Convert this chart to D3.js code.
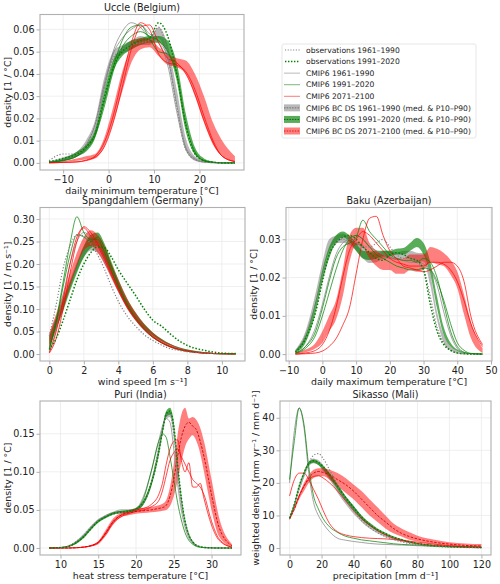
<!DOCTYPE html>
<html>
<head>
<meta charset="utf-8">
<script src="https://cdn.jsdelivr.net/npm/d3@7"></script>
<style>
  body { margin: 0; background: #fff; }
  svg { font-family: "DejaVu Sans", sans-serif; }
</style>
</head>
<body>
<svg id="chart" width="500" height="584"></svg>
<script>
// ---- Uccle (Belgium), daily minimum temperature
const ucX = [-13.1, -10, -7, -5, -3, -1, 1, 3, 5, 7, 9, 11, 13, 15, 17, 19, 21, 23, 25, 27.8];
const ucBandA = [[0, 0.0005], [0.0015, 0.0025], [0.003, 0.005], [0.007, 0.010], [0.015, 0.019], [0.032, 0.038], [0.045, 0.050], [0.049, 0.053], [0.051, 0.055], [0.053, 0.057], [0.053, 0.056], [0.056, 0.061], [0.046, 0.053], [0.026, 0.033], [0.006, 0.011], [0.001, 0.003], [0.0003, 0.001], [0.0001, 0.0004], [0, 0.0002], [0, 0.0001]];
const ucBandB = [[0, 0.0004], [0.001, 0.002], [0.003, 0.005], [0.005, 0.008], [0.011, 0.015], [0.026, 0.032], [0.041, 0.046], [0.048, 0.052], [0.051, 0.055], [0.053, 0.056], [0.054, 0.057], [0.054, 0.057], [0.050, 0.055], [0.039, 0.045], [0.017, 0.022], [0.004, 0.007], [0.001, 0.002], [0.0002, 0.0006], [0, 0.0002], [0, 0.0001]];
const ucBandC = [[0, 0.0002], [0.0003, 0.0008], [0.001, 0.002], [0.0015, 0.003], [0.002, 0.004], [0.007, 0.011], [0.018, 0.025], [0.032, 0.041], [0.045, 0.052], [0.051, 0.056], [0.052, 0.056], [0.048, 0.052], [0.044, 0.049], [0.043, 0.047], [0.040, 0.046], [0.030, 0.040], [0.018, 0.030], [0.008, 0.018], [0.003, 0.010], [0.0005, 0.003]];
const ucObsA = [0.001, 0.004, 0.004, 0.008, 0.017, 0.034, 0.047, 0.051, 0.053, 0.054, 0.055, 0.061, 0.049, 0.025, 0.006, 0.0015, 0.0004, 0.0001, 0, 0];
const ucObsB = [0.0005, 0.002, 0.004, 0.007, 0.013, 0.029, 0.043, 0.050, 0.053, 0.055, 0.056, 0.063, 0.057, 0.040, 0.017, 0.004, 0.001, 0.0003, 0, 0];
const ucGcmA = [
  [0.0003, 0.001, 0.003, 0.006, 0.014, 0.033, 0.050, 0.059, 0.063, 0.061, 0.056, 0.054, 0.044, 0.023, 0.006, 0.0015, 0.0003, 0.0001, 0, 0],
  [0.0003, 0.0015, 0.004, 0.008, 0.017, 0.035, 0.049, 0.056, 0.060, 0.062, 0.058, 0.055, 0.047, 0.026, 0.007, 0.002, 0.0005, 0.0001, 0, 0]];
const ucGcmB = [
  [0.0002, 0.0012, 0.003, 0.007, 0.013, 0.027, 0.043, 0.055, 0.061, 0.062, 0.056, 0.050, 0.049, 0.038, 0.015, 0.004, 0.001, 0.0002, 0, 0],
  [0.0002, 0.001, 0.003, 0.006, 0.012, 0.025, 0.041, 0.052, 0.057, 0.059, 0.057, 0.055, 0.050, 0.040, 0.017, 0.005, 0.001, 0.0003, 0, 0]];
const ucGcmC = [
  [0, 0.0002, 0.0005, 0.0012, 0.003, 0.009, 0.021, 0.038, 0.054, 0.063, 0.060, 0.049, 0.045, 0.044, 0.041, 0.033, 0.021, 0.010, 0.003, 0.0006],
  [0, 0.0002, 0.0004, 0.001, 0.0025, 0.007, 0.018, 0.034, 0.051, 0.061, 0.062, 0.054, 0.047, 0.045, 0.040, 0.031, 0.019, 0.009, 0.003, 0.0006]];

// ---- Spangdahlem (Germany), wind speed
const spX = [0, 0.4, 0.8, 1.2, 1.6, 2.0, 2.4, 2.8, 3.2, 3.6, 4.0, 4.5, 5.0, 5.5, 6.0, 6.5, 7.0, 7.5, 8.0, 9.0, 10.0, 10.8];
const spBandA = [[0.02, 0.045], [0.06, 0.085], [0.10, 0.125], [0.145, 0.165], [0.185, 0.205], [0.215, 0.24], [0.23, 0.26], [0.225, 0.255], [0.20, 0.23], [0.17, 0.197], [0.138, 0.16], [0.104, 0.12], [0.077, 0.09], [0.056, 0.066], [0.04, 0.047], [0.028, 0.033], [0.019, 0.022], [0.012, 0.015], [0.008, 0.01], [0.003, 0.004], [0.001, 0.0015], [0.0004, 0.0007]];
const spBandB = [[0.015, 0.04], [0.055, 0.08], [0.095, 0.12], [0.14, 0.16], [0.18, 0.20], [0.215, 0.24], [0.235, 0.265], [0.24, 0.27], [0.215, 0.245], [0.18, 0.205], [0.145, 0.166], [0.107, 0.124], [0.079, 0.092], [0.057, 0.067], [0.041, 0.048], [0.029, 0.034], [0.02, 0.023], [0.013, 0.015], [0.008, 0.01], [0.003, 0.004], [0.001, 0.0015], [0.0004, 0.0007]];
const spBandC = [[0.01, 0.045], [0.055, 0.09], [0.10, 0.135], [0.15, 0.18], [0.195, 0.225], [0.23, 0.26], [0.24, 0.275], [0.225, 0.265], [0.2, 0.24], [0.168, 0.2], [0.137, 0.165], [0.103, 0.124], [0.076, 0.092], [0.055, 0.066], [0.039, 0.047], [0.027, 0.033], [0.018, 0.022], [0.012, 0.014], [0.007, 0.009], [0.003, 0.004], [0.001, 0.0015], [0.0004, 0.0007]];
const spObsA = [0.04, 0.11, 0.19, 0.24, 0.265, 0.262, 0.245, 0.22, 0.188, 0.15, 0.117, 0.085, 0.062, 0.043, 0.03, 0.02, 0.012, 0.008, 0.005, 0.002, 0.0005, 0.0001];
const spObsB = [0.01, 0.035, 0.075, 0.12, 0.165, 0.2, 0.225, 0.238, 0.236, 0.215, 0.187, 0.158, 0.13, 0.1, 0.075, 0.062, 0.045, 0.03, 0.019, 0.008, 0.002, 0.001];
const spGcmA = [
  [0.005, 0.055, 0.13, 0.2, 0.25, 0.27, 0.26, 0.24, 0.21, 0.175, 0.14, 0.103, 0.075, 0.053, 0.037, 0.025, 0.016, 0.01, 0.006, 0.002, 0.0006, 0.0002]];
const spGcmB = [
  [0.01, 0.075, 0.16, 0.245, 0.305, 0.27, 0.255, 0.255, 0.225, 0.185, 0.148, 0.108, 0.078, 0.055, 0.037, 0.025, 0.016, 0.01, 0.006, 0.002, 0.0006, 0.0002],
  [0.012, 0.07, 0.15, 0.22, 0.265, 0.26, 0.25, 0.26, 0.235, 0.195, 0.155, 0.112, 0.08, 0.057, 0.039, 0.026, 0.017, 0.011, 0.007, 0.002, 0.0006, 0.0002]];
const spGcmC = [
  [0.002, 0.035, 0.10, 0.18, 0.25, 0.283, 0.27, 0.245, 0.215, 0.18, 0.146, 0.107, 0.078, 0.055, 0.038, 0.026, 0.017, 0.011, 0.007, 0.002, 0.0006, 0.0002],
  [0.003, 0.05, 0.12, 0.2, 0.26, 0.28, 0.262, 0.24, 0.21, 0.175, 0.142, 0.104, 0.076, 0.054, 0.037, 0.025, 0.016, 0.01, 0.006, 0.002, 0.0006, 0.0002]];

// ---- Baku (Azerbaijan), daily maximum temperature
const bkX = [-8, -5, -2, 0, 2, 4, 6, 8, 10, 12, 14, 16, 18, 20, 22, 24, 26, 28, 30, 32, 34, 36, 38, 40, 42, 44, 47.5];
const bkBandA = [[0.0005, 0.0012], [0.004, 0.006], [0.013, 0.016], [0.021, 0.024], [0.027, 0.03], [0.029, 0.031], [0.029, 0.0315], [0.0285, 0.0305], [0.027, 0.0295], [0.025, 0.0285], [0.0238, 0.0265], [0.024, 0.0262], [0.025, 0.027], [0.025, 0.027], [0.0245, 0.0265], [0.025, 0.027], [0.025, 0.027], [0.024, 0.0265], [0.0242, 0.0264], [0.018, 0.021], [0.009, 0.011], [0.003, 0.005], [0.001, 0.002], [0.0004, 0.0008], [0.0002, 0.0004], [0.0001, 0.0002], [0, 0.0001]];
const bkBandB = [[0.0004, 0.001], [0.003, 0.005], [0.011, 0.014], [0.019, 0.022], [0.025, 0.028], [0.029, 0.031], [0.0305, 0.032], [0.0294, 0.031], [0.027, 0.029], [0.025, 0.027], [0.0246, 0.0268], [0.025, 0.027], [0.0255, 0.027], [0.0255, 0.027], [0.026, 0.0275], [0.026, 0.0277], [0.027, 0.029], [0.028, 0.0303], [0.026, 0.029], [0.021, 0.024], [0.012, 0.015], [0.005, 0.007], [0.002, 0.003], [0.0008, 0.0012], [0.0003, 0.0005], [0.0001, 0.0002], [0, 0.0001]];
const bkBandC = [[0, 0.0003], [0.0005, 0.0012], [0.0015, 0.003], [0.003, 0.006], [0.006, 0.01], [0.009, 0.014], [0.015, 0.022], [0.024, 0.031], [0.0285, 0.033], [0.028, 0.033], [0.025, 0.029], [0.023, 0.027], [0.022, 0.026], [0.022, 0.0255], [0.021, 0.025], [0.021, 0.025], [0.022, 0.026], [0.0215, 0.026], [0.022, 0.026], [0.024, 0.028], [0.0235, 0.0275], [0.023, 0.0264], [0.0207, 0.0246], [0.0173, 0.0216], [0.0104, 0.0156], [0.0043, 0.0086], [0.0003, 0.0015]];
const bkObsA = [0.0005, 0.005, 0.013, 0.02, 0.026, 0.029, 0.03, 0.03, 0.029, 0.028, 0.028, 0.029, 0.03, 0.028, 0.026, 0.025, 0.025, 0.024, 0.022, 0.015, 0.007, 0.003, 0.001, 0.0003, 0.0001, 0, 0];
const bkObsB = [0.0005, 0.004, 0.011, 0.019, 0.026, 0.029, 0.0305, 0.031, 0.03, 0.028, 0.0265, 0.025, 0.0245, 0.026, 0.0265, 0.026, 0.025, 0.0245, 0.022, 0.013, 0.006, 0.0025, 0.001, 0.0003, 0.0001, 0, 0];
const bkGcmA = [
  [0.0003, 0.002, 0.007, 0.013, 0.02, 0.026, 0.029, 0.03, 0.031, 0.03, 0.028, 0.027, 0.026, 0.025, 0.025, 0.0245, 0.024, 0.024, 0.0235, 0.022, 0.018, 0.011, 0.005, 0.0015, 0.0004, 0.0001, 0]];
const bkGcmB = [
  [0.0003, 0.002, 0.006, 0.012, 0.019, 0.025, 0.028, 0.029, 0.0305, 0.035, 0.032, 0.03, 0.028, 0.026, 0.025, 0.0245, 0.0245, 0.024, 0.025, 0.024, 0.02, 0.013, 0.006, 0.002, 0.0005, 0.0001, 0],
  [0.0002, 0.0015, 0.005, 0.01, 0.016, 0.022, 0.027, 0.03, 0.031, 0.03, 0.028, 0.026, 0.025, 0.024, 0.023, 0.0225, 0.022, 0.022, 0.0225, 0.022, 0.019, 0.014, 0.008, 0.003, 0.001, 0.0002, 0]];
const bkGcmC = [
  [0, 0.0001, 0.0003, 0.0008, 0.002, 0.004, 0.0075, 0.012, 0.021, 0.03, 0.0355, 0.036, 0.031, 0.027, 0.025, 0.023, 0.0225, 0.022, 0.0215, 0.022, 0.023, 0.024, 0.024, 0.023, 0.019, 0.01, 0.0025],
  [0, 0.0003, 0.001, 0.0025, 0.006, 0.012, 0.02, 0.027, 0.03, 0.032, 0.031, 0.029, 0.027, 0.025, 0.024, 0.0235, 0.023, 0.023, 0.023, 0.024, 0.024, 0.0235, 0.022, 0.019, 0.014, 0.008, 0.002]];

// ---- Puri (India), heat stress temperature
const puX = [8.5, 10, 11, 12, 13, 14, 15, 16, 17, 18, 19, 20, 21, 22, 23, 23.5, 24, 24.5, 25, 25.5, 26, 26.5, 27, 27.5, 28, 28.5, 29, 30, 31, 32.7];
const puBandA = [[0, 0.0002], [0.0005, 0.001], [0.002, 0.003], [0.006, 0.009], [0.014, 0.018], [0.025, 0.029], [0.034, 0.038], [0.04, 0.043], [0.044, 0.047], [0.045, 0.048], [0.046, 0.049], [0.048, 0.052], [0.057, 0.062], [0.08, 0.087], [0.125, 0.135], [0.15, 0.16], [0.17, 0.178], [0.172, 0.18], [0.145, 0.155], [0.095, 0.105], [0.055, 0.062], [0.03, 0.035], [0.015, 0.018], [0.007, 0.009], [0.003, 0.004], [0.0015, 0.002], [0.0007, 0.001], [0.0002, 0.0003], [0, 0.0001], [0, 0]];
const puBandB = [[0, 0.0002], [0.0004, 0.001], [0.0015, 0.0025], [0.005, 0.008], [0.012, 0.016], [0.023, 0.027], [0.033, 0.037], [0.039, 0.042], [0.044, 0.047], [0.046, 0.049], [0.047, 0.05], [0.049, 0.053], [0.057, 0.063], [0.08, 0.088], [0.12, 0.13], [0.148, 0.158], [0.172, 0.18], [0.175, 0.184], [0.155, 0.165], [0.105, 0.115], [0.062, 0.07], [0.033, 0.038], [0.016, 0.019], [0.007, 0.009], [0.003, 0.004], [0.0015, 0.002], [0.0007, 0.001], [0.0002, 0.0003], [0, 0.0001], [0, 0]];
const puBandC = [[0, 0], [0, 0], [0, 0.0001], [0.0002, 0.0005], [0.0008, 0.0015], [0.002, 0.004], [0.005, 0.009], [0.016, 0.024], [0.031, 0.039], [0.04, 0.046], [0.043, 0.049], [0.045, 0.052], [0.046, 0.053], [0.047, 0.054], [0.048, 0.056], [0.049, 0.058], [0.05, 0.063], [0.055, 0.08], [0.068, 0.11], [0.088, 0.148], [0.113, 0.175], [0.133, 0.184], [0.143, 0.17], [0.148, 0.172], [0.14, 0.168], [0.124, 0.158], [0.1, 0.14], [0.05, 0.09], [0.015, 0.04], [0.001, 0.005]];
const puMedC = [0, 0, 0, 0.0003, 0.0012, 0.003, 0.007, 0.02, 0.035, 0.043, 0.046, 0.048, 0.049, 0.05, 0.052, 0.053, 0.056, 0.068, 0.09, 0.12, 0.145, 0.16, 0.165, 0.16, 0.155, 0.14, 0.12, 0.07, 0.027, 0.003];
const puObsA = [0, 0.0007, 0.0025, 0.008, 0.016, 0.027, 0.036, 0.042, 0.046, 0.047, 0.048, 0.05, 0.06, 0.085, 0.13, 0.155, 0.174, 0.176, 0.15, 0.1, 0.058, 0.032, 0.016, 0.008, 0.0035, 0.0017, 0.0008, 0.0002, 0, 0];
const puObsB = [0, 0.0006, 0.002, 0.0065, 0.014, 0.025, 0.035, 0.041, 0.045, 0.047, 0.048, 0.051, 0.06, 0.084, 0.125, 0.153, 0.176, 0.18, 0.16, 0.11, 0.066, 0.035, 0.017, 0.008, 0.0035, 0.0017, 0.0008, 0.0002, 0, 0];
const puGcmA = [
  [0, 0.0006, 0.002, 0.007, 0.015, 0.026, 0.036, 0.043, 0.047, 0.05, 0.05, 0.052, 0.068, 0.1, 0.14, 0.16, 0.17, 0.165, 0.13, 0.085, 0.05, 0.027, 0.013, 0.006, 0.003, 0.0013, 0.0006, 0.0001, 0, 0]];
const puGcmB = [
  [0, 0.0005, 0.002, 0.006, 0.014, 0.025, 0.035, 0.041, 0.046, 0.048, 0.049, 0.051, 0.065, 0.1, 0.14, 0.15, 0.145, 0.12, 0.09, 0.06, 0.037, 0.02, 0.01, 0.005, 0.002, 0.001, 0.0005, 0.0001, 0, 0]];
const puGcmC = [
  [0, 0, 0, 0.0003, 0.001, 0.003, 0.008, 0.02, 0.035, 0.043, 0.047, 0.05, 0.052, 0.057, 0.07, 0.085, 0.11, 0.13, 0.14, 0.142, 0.115, 0.1, 0.112, 0.08, 0.08, 0.085, 0.065, 0.03, 0.01, 0.001],
  [0, 0, 0, 0.0003, 0.001, 0.0025, 0.007, 0.018, 0.033, 0.041, 0.045, 0.048, 0.05, 0.054, 0.062, 0.075, 0.095, 0.115, 0.125, 0.13, 0.12, 0.11, 0.1, 0.09, 0.085, 0.08, 0.07, 0.035, 0.012, 0.001]];

// ---- Sikasso (Mali), precipitation
const skX = [0, 3, 6, 9, 12, 15, 18, 21, 25, 30, 35, 40, 45, 50, 55, 60, 65, 70, 75, 80, 90, 100, 110, 120];
const skBandA = [[8.5, 9.5], [12.5, 13.5], [17.5, 18.5], [21.5, 23], [25, 26.5], [26, 27.5], [25.5, 27], [23.5, 25.5], [21, 23], [17, 19.5], [13.5, 16], [10.5, 13], [8, 10], [6, 7.5], [4.5, 5.6], [3.4, 4.2], [2.5, 3.2], [1.9, 2.4], [1.4, 1.8], [1.0, 1.3], [0.55, 0.8], [0.3, 0.5], [0.15, 0.3], [0.05, 0.2]];
const skBandB = [[8.8, 9.6], [13, 14], [18.5, 19.5], [22.5, 23.5], [25.5, 26.5], [26.2, 27.2], [25.5, 26.5], [24, 25.2], [21.5, 23], [18, 19.5], [14.5, 16], [11.5, 13], [8.8, 10], [6.8, 7.8], [5.2, 6], [4, 4.7], [3, 3.6], [2.3, 2.8], [1.7, 2.1], [1.2, 1.5], [0.65, 0.85], [0.35, 0.5], [0.2, 0.3], [0.1, 0.2]];
const skBandC = [[8.5, 9.5], [11.5, 12.5], [15, 16.5], [17.5, 20], [20, 22.5], [21.5, 24], [22, 24.5], [22, 24.5], [21, 24], [19, 23], [17, 21.5], [15, 19.5], [12.5, 17.5], [10, 15], [8, 12.5], [6, 10], [4.5, 7.5], [3.5, 6], [2.5, 4.8], [2.0, 3.8], [1.2, 2.6], [0.7, 1.8], [0.4, 1.4], [0.2, 1.2]];
const skMedC = [9, 12, 16, 19, 21.5, 23, 23.5, 23.2, 22.5, 21, 19.5, 17.5, 15, 12.5, 10, 8, 6, 4.5, 3.5, 2.8, 1.8, 1.2, 0.8, 0.6];
const skObsA = [9, 13, 18, 22.5, 26, 28.5, 29, 27.5, 24, 19.5, 15, 11.5, 8.5, 6.3, 4.7, 3.5, 2.6, 1.9, 1.4, 1.0, 0.5, 0.3, 0.15, 0.05];
const skObsB = [9.2, 13.5, 19, 23, 26, 26.8, 26.3, 25, 22.5, 19, 15.5, 12.5, 9.5, 7.3, 5.6, 4.4, 3.3, 2.6, 1.9, 1.4, 0.75, 0.45, 0.25, 0.15];
const skGcmA = [
  [20, 36, 43, 37, 23, 14, 10, 7.5, 5, 3, 2.4, 2.0, 1.7, 1.4, 1.2, 1.1, 1.0, 0.9, 0.8, 0.7, 0.5, 0.3, 0.2, 0.1]];
const skGcmB = [
  [21, 33, 43, 38, 25, 16, 12, 9, 6.5, 4.8, 3.6, 3, 2.5, 2.2, 1.9, 1.6, 1.3, 1.1, 1.0, 0.9, 0.6, 0.4, 0.3, 0.2]];
const skGcmC = [
  [16, 21, 23, 23, 21, 18, 15, 11.5, 7.5, 5, 4, 3.5, 3.2, 3, 2.9, 2.8, 2.6, 2.4, 2.1, 1.8, 1.2, 0.7, 0.4, 0.2],
  [9, 12.5, 16, 19, 21, 22, 22.2, 21.5, 20, 17.5, 14.5, 11.5, 9, 7, 5.3, 4, 3, 2.3, 1.8, 1.4, 0.9, 0.6, 0.4, 0.2]];

// ---- ticks
const ucXTicks = [-10, 0, 10, 20];
const ucYTicks = [0, 0.01, 0.02, 0.03, 0.04, 0.05, 0.06];
const spXTicks = [0, 2, 4, 6, 8, 10];
const spYTicks = [0, 0.05, 0.10, 0.15, 0.20, 0.25, 0.30];
const bkXTicks = [-10, 0, 10, 20, 30, 40, 50];
const bkYTicks = [0, 0.01, 0.02, 0.03];
const puXTicks = [10, 15, 20, 25, 30];
const puYTicks = [0, 0.05, 0.10, 0.15];
const skXTicks = [0, 20, 40, 60, 80, 100, 120];
const skYTicks = [0, 10, 20, 30, 40];

const legendLabels = ['observations 1961–1990', 'observations 1991–2020', 'CMIP6 1961–1990', 'CMIP6 1991–2020', 'CMIP6 2071–2100',
  'CMIP6 BC DS 1961–1990 (med. & P10–P90)', 'CMIP6 BC DS 1991–2020 (med. & P10–P90)', 'CMIP6 BC DS 2071–2100 (med. & P10–P90)'];

const col = {
  A: {band: '#808080', bandOp: 0.55, line: '#808080', med: '#5a5a5a'},
  B: {band: '#008000', bandOp: 0.65, line: '#008000', med: '#005000'},
  C: {band: '#ff0000', bandOp: 0.5, line: '#ff0000', med: '#d00000'}
};

const panels = [
  {title: 'Uccle (Belgium)', xlabel: 'daily minimum temperature [°C]', ylabel: 'density [1 / °C]',
   box: {l: 40, r: 244, t: 14.5, b: 170}, xd: [-15.1, 29.8], yd: [-0.0032, 0.0667], ylx: 7.5,
   xt: ucXTicks, yt: ucYTicks, yf: d3.format('.2f'), x: ucX,
   bands: {A: ucBandA, B: ucBandB, C: ucBandC}, meds: {}, gcm: {A: ucGcmA, B: ucGcmB, C: ucGcmC}, obs: {A: ucObsA, B: ucObsB}},
  {title: 'Spangdahlem (Germany)', xlabel: 'wind speed [m s⁻¹]', ylabel: 'density [1 / m s⁻¹]',
   box: {l: 40, r: 245, t: 207.5, b: 361}, xd: [-0.54, 11.34], yd: [-0.0155, 0.3255], ylx: 7.5,
   xt: spXTicks, yt: spYTicks, yf: d3.format('.2f'), x: spX,
   bands: {A: spBandA, B: spBandB, C: spBandC}, meds: {}, gcm: {A: spGcmA, B: spGcmB, C: spGcmC}, obs: {A: spObsA, B: spObsB}},
  {title: 'Baku (Azerbaijan)', xlabel: 'daily maximum temperature [°C]', ylabel: 'density [1 / °C]',
   box: {l: 286, r: 492, t: 207.5, b: 361}, xd: [-10.8, 50.3], yd: [-0.0018, 0.0383], ylx: 253.5,
   xt: bkXTicks, yt: bkYTicks, yf: d3.format('.2f'), x: bkX,
   bands: {A: bkBandA, B: bkBandB, C: bkBandC}, meds: {}, gcm: {A: bkGcmA, B: bkGcmB, C: bkGcmC}, obs: {A: bkObsA, B: bkObsB}},
  {title: 'Puri (India)', xlabel: 'heat stress temperature [°C]', ylabel: 'density [1 / °C]',
   box: {l: 40, r: 241, t: 401, b: 555}, xd: [7.29, 33.9], yd: [-0.0092, 0.193], ylx: 7.5,
   xt: puXTicks, yt: puYTicks, yf: d3.format('.2f'), x: puX,
   bands: {A: puBandA, B: puBandB, C: puBandC}, meds: {C: puMedC}, gcm: {A: puGcmA, B: puGcmB, C: puGcmC}, obs: {A: puObsA, B: puObsB}},
  {title: 'Sikasso (Mali)', xlabel: 'precipitation [mm d⁻¹]', ylabel: 'weighted density [mm yr⁻¹ / mm d⁻¹]',
   box: {l: 280, r: 491, t: 401, b: 555}, xd: [-6, 126], yd: [-2.15, 45.15], ylx: 255.5,
   xt: skXTicks, yt: skYTicks, yf: d3.format('d'), x: skX,
   bands: {A: skBandA, B: skBandB, C: skBandC}, meds: {C: skMedC}, gcm: {A: skGcmA, B: skGcmB, C: skGcmC}, obs: {A: skObsA, B: skObsB}}
];

const svg = d3.select('#chart');
svg.append('rect').attr('width', 500).attr('height', 584).attr('fill', '#fff');

panels.forEach(p => {
  const b = p.box;
  const xs = d3.scaleLinear().domain(p.xd).range([b.l, b.r]);
  const ys = d3.scaleLinear().domain(p.yd).range([b.b, b.t]);
  const g = svg.append('g');

  // grid
  g.selectAll('.gx').data(p.xt).join('line')
    .attr('x1', d => xs(d)).attr('x2', d => xs(d)).attr('y1', b.t).attr('y2', b.b)
    .attr('stroke', '#ebebeb').attr('stroke-width', 0.8);
  g.selectAll('.gy').data(p.yt).join('line')
    .attr('x1', b.l).attr('x2', b.r).attr('y1', d => ys(d)).attr('y2', d => ys(d))
    .attr('stroke', '#ebebeb').attr('stroke-width', 0.8);

  const area = d3.area().curve(d3.curveMonotoneX)
    .x((d, i) => xs(p.x[i])).y0(d => ys(d[0])).y1(d => ys(d[1]));
  const line = d3.line().curve(d3.curveMonotoneX)
    .x((d, i) => xs(p.x[i])).y(d => ys(d));

  ['A', 'B', 'C'].forEach(k => {
    g.append('path').attr('d', area(p.bands[k]))
      .attr('fill', col[k].band).attr('fill-opacity', col[k].bandOp).attr('stroke', 'none');
  });
  ['A', 'B', 'C'].forEach(k => {
    p.gcm[k].forEach(s => {
      g.append('path').attr('d', line(s)).attr('fill', 'none')
        .attr('stroke', col[k].line).attr('stroke-width', 0.85).attr('stroke-opacity', 0.85);
    });
  });
  Object.keys(p.meds).forEach(k => {
    g.append('path').attr('d', line(p.meds[k])).attr('fill', 'none')
      .attr('stroke', col[k].med).attr('stroke-width', 0.9).attr('stroke-dasharray', '2.5,1.5');
  });
  g.append('path').attr('d', line(p.obs.A)).attr('fill', 'none')
    .attr('stroke', '#808080').attr('stroke-width', 1.2).attr('stroke-dasharray', '1.2,1.8');
  g.append('path').attr('d', line(p.obs.B)).attr('fill', 'none')
    .attr('stroke', '#008000').attr('stroke-width', 1.5).attr('stroke-dasharray', '1.5,1.8');

  // frame
  g.append('rect').attr('x', b.l).attr('y', b.t).attr('width', b.r - b.l).attr('height', b.b - b.t)
    .attr('fill', 'none').attr('stroke', '#b0b0b0').attr('stroke-width', 1.1);

  // axes
  const ax = g.append('g').attr('transform', `translate(0,${b.b})`)
    .call(d3.axisBottom(xs).tickValues(p.xt).tickSize(3.5).tickPadding(2.5));
  const ay = g.append('g').attr('transform', `translate(${b.l},0)`)
    .call(d3.axisLeft(ys).tickValues(p.yt).tickFormat(p.yf).tickSize(3.5).tickPadding(2));
  [ax, ay].forEach(a => {
    a.select('.domain').remove();
    a.selectAll('line').attr('stroke', '#b0b0b0');
    a.selectAll('text').attr('fill', '#222').style('font-size', '9.6px').style('font-family', '"DejaVu Sans"');
  });

  g.append('text').attr('x', (b.l + b.r) / 2).attr('y', b.t - 3.5).attr('text-anchor', 'middle')
    .style('font-size', '9.6px').attr('fill', '#222').text(p.title);
  g.append('text').attr('x', (b.l + b.r) / 2).attr('y', b.b + 24).attr('text-anchor', 'middle')
    .style('font-size', '9.4px').attr('fill', '#222').text(p.xlabel);
  g.append('text').attr('transform', `translate(${p.ylx},${(b.t + b.b) / 2}) rotate(-90)`)
    .attr('text-anchor', 'middle').attr('dy', '0.35em')
    .style('font-size', '9.4px').attr('fill', '#222').text(p.ylabel);
});

// legend
const lg = svg.append('g');
lg.append('rect').attr('x', 282).attr('y', 44).attr('width', 194).attr('height', 94)
  .attr('fill', '#fff').attr('stroke', '#e0e0e0').attr('stroke-width', 0.8).attr('rx', 2);
const ly = d3.scalePoint().domain(d3.range(legendLabels.length)).range([50, 131]);
legendLabels.forEach((t, i) => {
  const y = ly(i);
  const row = lg.append('g');
  if (i < 2) {
    row.append('line').attr('x1', 285).attr('x2', 300).attr('y1', y).attr('y2', y)
      .attr('stroke', i === 0 ? '#808080' : '#008000').attr('stroke-width', i === 0 ? 1.1 : 1.4)
      .attr('stroke-dasharray', i === 0 ? '1.1,1.6' : '1.4,1.6');
  } else if (i < 5) {
    const k = ['A', 'B', 'C'][i - 2];
    row.append('line').attr('x1', 284).attr('x2', 300).attr('y1', y).attr('y2', y)
      .attr('stroke', col[k].line).attr('stroke-width', 0.9).attr('stroke-opacity', 0.6);
  } else {
    const k = ['A', 'B', 'C'][i - 5];
    row.append('rect').attr('x', 284).attr('y', y - 3.5).attr('width', 16).attr('height', 7)
      .attr('fill', col[k].band).attr('fill-opacity', col[k].bandOp);
    row.append('line').attr('x1', 284).attr('x2', 300).attr('y1', y).attr('y2', y)
      .attr('stroke', col[k].med).attr('stroke-width', 0.8).attr('stroke-dasharray', '1.5,1.2');
  }
  row.append('text').attr('x', 306).attr('y', y).attr('dy', '0.35em')
    .style('font-size', '7.6px').attr('fill', '#222').text(t);
});
</script>
</body>
</html>
